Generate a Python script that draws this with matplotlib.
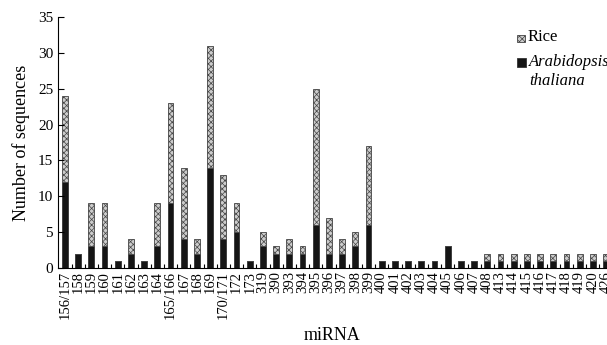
import matplotlib
matplotlib.use("Agg")
import matplotlib.pyplot as plt
from matplotlib.patches import Rectangle
import numpy as np

categories = ["156/157", "158", "159", "160", "161", "162", "163", "164", "165/166",
              "167", "168", "169", "170/171", "172", "173", "319", "390", "393", "394",
              "395", "396", "397", "398", "399", "400", "401", "402", "403", "404",
              "405", "406", "407", "408", "413", "414", "415", "416", "417", "418",
              "419", "420", "426"]
arabidopsis = [12, 2, 3, 3, 1, 2, 1, 3, 9, 4, 2, 14, 4, 5, 1, 3, 2, 2, 2, 6, 2, 2, 3, 6,
               1, 1, 1, 1, 1, 3, 1, 1, 1, 1, 1, 1, 1, 1, 1, 1, 1, 1]
rice = [12, 0, 6, 6, 0, 2, 0, 6, 14, 10, 2, 17, 9, 4, 0, 2, 1, 2, 1, 19, 5, 2, 2, 11,
        0, 0, 0, 0, 0, 0, 0, 0, 1, 1, 1, 1, 1, 1, 1, 1, 1, 1]
yticks = [0, 5, 10, 15, 20, 25, 30, 35]

plt.rcParams['font.family'] = ['Liberation Serif', 'DejaVu Serif']
plt.rcParams['hatch.linewidth'] = 0.5
plt.rcParams['hatch.color'] = '#5a5a5a'

RICE_FC = '#cccccc'
ARA_FC = '#151515'

fig = plt.figure(figsize=(6.07, 3.45), dpi=100)
ax = fig.add_axes([58/607, 1-268/345, 1-58/607, (268-17)/345])

x = np.arange(len(categories))
w = 0.44
ax.bar(x, arabidopsis, width=w, color=ARA_FC, edgecolor='#333333', linewidth=0.6)
ax.bar(x, rice, width=w, bottom=arabidopsis, color=RICE_FC, edgecolor='#444444',
       linewidth=0.6, hatch='xxxxxx')

ax.set_xlim(-0.53, len(categories) - 1 + 0.07)
ax.set_ylim(0, 35)
ax.set_yticks(yticks)
ax.tick_params(axis='y', direction='in', length=4, labelsize=11, width=0.8)
ax.set_xticks(x)
ax.set_xticklabels(categories, rotation=90, fontsize=10.5)
ax.tick_params(axis='x', which='major', length=0, pad=2)
ax.set_xticks(x[:-1] + 0.5, minor=True)
ax.tick_params(axis='x', which='minor', direction='in', length=3, width=0.8)
for s in ['top', 'right']:
    ax.spines[s].set_visible(False)
ax.spines['left'].set_linewidth(0.8)
ax.spines['bottom'].set_linewidth(0.8)
ax.set_ylabel("Number of sequences", fontsize=13, labelpad=6)
ax.set_xlabel("miRNA", fontsize=13)
ax.xaxis.set_label_coords(0.5, -(336-268)/(268-17))
ax.xaxis.label.set_va('center')

# legend
fig.patches.append(Rectangle((517/607, 1-42/345), 8/607, 7/345, transform=fig.transFigure,
                             facecolor=RICE_FC, edgecolor='#444444', hatch='xxxxxx', linewidth=0.6))
fig.text(528/607, 1-37/345, "Rice", fontsize=12, va='center', ha='left')
fig.patches.append(Rectangle((517/607, 1-67/345), 9/607, 9/345, transform=fig.transFigure,
                             facecolor=ARA_FC, edgecolor='#333333', linewidth=0.6))
fig.text(529/607, 1-62/345, "Arabidopsis", fontsize=12, va='center', ha='left', style='italic')
fig.text(529/607, 1-81/345, "thaliana", fontsize=12, va='center', ha='left', style='italic')

fig.savefig("out.png", dpi=100)
